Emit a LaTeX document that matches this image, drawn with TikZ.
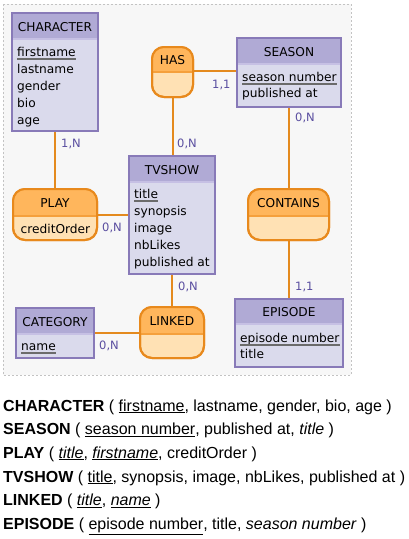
\documentclass[tikz,border=0pt]{standalone}
\usepackage{fontspec}
\setmainfont{Liberation Sans}
\newfontfamily\dvfont{DejaVu Sans}
\definecolor{entH}{RGB}{176,170,213}
\definecolor{entBody}{RGB}{218,218,236}
\definecolor{entB}{RGB}{136,122,184}
\definecolor{entDiv}{RGB}{198,192,228}
\definecolor{relH}{RGB}{255,182,92}
\definecolor{relBody}{RGB}{255,225,180}
\definecolor{relB}{RGB}{232,137,28}
\definecolor{relDiv}{RGB}{245,160,60}
\definecolor{lineC}{RGB}{228,138,30}
\definecolor{cardC}{RGB}{90,78,160}
\definecolor{ulC}{RGB}{107,107,107}
\definecolor{frameFill}{RGB}{247,247,247}
\definecolor{frameLine}{RGB}{195,195,195}
\newcommand\mkent[7]{% name x1 y1 x2 y2 ydiv title
  \node[entbox, minimum width={#4-#2}, minimum height={#5-#3}] (#1) at ({(#2+#4)/2},{(#3+#5)/2}) {};
  \fill[entH] (#1.north west) rectangle (#1.east |- 0,#6);
  \draw[entDiv, line width=1.5pt] ([xshift=1pt]#1.west |- 0,{#6+0.75}) -- ([xshift=-1pt]#1.east |- 0,{#6+0.75});
  \draw[entB, line width=2pt] (#1.north west) rectangle (#1.south east);
  \node[hdr] (#1-t) at ({(#2+#4)/2},{#6-(#6-#3)/2+5.8}) {#7};
}
\newcommand\mkrel[7]{% name x1 y1 x2 y2 ydiv title
  \node[relbox, minimum width={#4-#2}, minimum height={#5-#3}] (#1) at ({(#2+#4)/2},{(#3+#5)/2}) {};
  \begin{scope}
    \clip[rounded corners=12pt] (#1.south west) rectangle (#1.north east);
    \fill[relH] (#1.north west) rectangle (#1.east |- 0,#6);
    \draw[relDiv, line width=1.5pt] (#1.west |- 0,{#6+0.75}) -- (#1.east |- 0,{#6+0.75});
  \end{scope}
  \draw[relB, line width=2pt, rounded corners=12pt] (#1.south west) rectangle (#1.north east);
  \node[hdr] (#1-t) at ({(#2+#4)/2},{#6-(#6-#3)/2+5.8}) {#7};
}
\begin{document}
\begin{tikzpicture}[x=1pt,y=-1pt,
  entbox/.style={draw=entB, fill=entBody, line width=2pt, inner sep=0pt, outer sep=0pt},
  relbox/.style={draw=relB, fill=relBody, line width=2pt, rounded corners=12pt, inner sep=0pt, outer sep=0pt},
  hdr/.style={font=\dvfont\fontsize{12.2}{14}\selectfont, inner sep=0pt, anchor=base},
  attr/.style={font=\dvfont\fontsize{12.2}{14}\selectfont, inner sep=0pt, anchor=base west},
  ul/.style={draw=ulC, line width=2pt},
  card/.style={font=\dvfont\fontsize{11.5}{13}\selectfont, text=cardC, inner sep=0pt, anchor=west},
  conn/.style={draw=lineC, line width=2pt},
  rtext/.style={font=\fontsize{16}{19}\selectfont, inner sep=0pt, anchor=base west}]
\useasboundingbox (0,0) rectangle (408,539);
\fill[white] (0,0) rectangle (408,539);
\draw[frameLine, fill=frameFill, line width=1pt, dash pattern=on 2pt off 2pt] (3,4) rectangle (351,375);

% connectors (drawn first, nodes on top)
\draw[conn] (55,131) -- (55,189);
\draw[conn] (172.5,97) -- (172.5,156);
\draw[conn] (193,71) -- (237,71);
\draw[conn] (289,107) -- (289,189);
\draw[conn] (97,215) -- (129,215);
\draw[conn] (172,274) -- (172,307);
\draw[conn] (94,333) -- (140,333);
\draw[conn] (289,240) -- (289,299);

% entities
\mkent{character}{12}{13}{98}{131}{38}{CHARACTER}
\node[attr] (ch1) at (17,56.5) {firstname};
\draw[ul] ([yshift=-2.5pt]ch1.base west) -- ([yshift=-2.5pt]ch1.base east);
\node[attr] (ch2) at (17,73.5) {lastname};
\node[attr] (ch3) at (17,90.5) {gender};
\node[attr] (ch4) at (17,107.5) {bio};
\node[attr] (ch5) at (17,124.5) {age};

\mkent{season}{237}{38}{341}{107}{63}{SEASON}
\node[attr] (se1) at (242,81) {season number};
\draw[ul] ([yshift=-2.5pt]se1.base west) -- ([yshift=-2.5pt]se1.base east);
\node[attr] (se2) at (242,97.5) {published at};

\mkent{tvshow}{129}{156}{215}{274}{181}{TVSHOW}
\node[attr] (tv1) at (134,198.5) {title};
\draw[ul] ([yshift=-2.5pt]tv1.base west) -- ([yshift=-2.5pt]tv1.base east);
\node[attr] (tv2) at (134,215.5) {synopsis};
\node[attr] (tv3) at (134,232.5) {image};
\node[attr] (tv4) at (134,249.5) {nbLikes};
\node[attr] (tv5) at (134,266.5) {published at};

\mkent{category}{16}{308}{94}{358}{333}{CATEGORY}
\node[attr] (ca1) at (21,350.5) {name};
\draw[ul] ([yshift=-2.5pt]ca1.base west) -- ([yshift=-2.5pt]ca1.base east);

\mkent{episode}{235}{299}{343}{367}{323}{EPISODE}
\node[attr] (ep1) at (240,342) {episode number};
\draw[ul] ([yshift=-2.5pt]ep1.base west) -- ([yshift=-2.5pt]ep1.base east);
\node[attr] (ep2) at (240,358.5) {title};

% relations
\mkrel{has}{152}{47}{193}{97}{71}{HAS}
\mkrel{play}{13}{189}{97}{240}{215}{PLAY}
\node[attr] (pl1) at (20.5,233.5) {creditOrder};
\mkrel{contains}{248}{189}{329}{240}{215}{CONTAINS}
\mkrel{linked}{140}{307}{204}{358}{333}{LINKED}

% cardinalities
\node[card] (k1) at (61,144) {1,N};
\node[card] (k2) at (177,144) {0,N};
\node[card] (k3) at (212,85) {1,1};
\node[card] (k4) at (295,118) {0,N};
\node[card] (k5) at (102,228) {0,N};
\node[card] (k6) at (178,287) {0,N};
\node[card] (k7) at (99,346) {0,N};
\node[card] (k8) at (295,287) {1,1};

% relational schema
\node[rtext] (r1) at (3,411) {\textbf{CHARACTER} ( \underline{firstname}, lastname, gender, bio, age )};
\node[rtext] (r2) at (3,434.5) {\textbf{SEASON} ( \underline{season number}, published at, \textit{title} )};
\node[rtext] (r3) at (3,458) {\textbf{PLAY} ( \underline{\textit{title}}, \underline{\textit{firstname}}, creditOrder )};
\node[rtext] (r4) at (3,482) {\textbf{TVSHOW} ( \underline{title}, synopsis, image, nbLikes, published at )};
\node[rtext] (r5) at (3,505.5) {\textbf{LINKED} ( \underline{\textit{title}}, \underline{\textit{name}} )};
\node[rtext] (r6) at (3,529) {\textbf{EPISODE} ( \underline{episode number}, title, \textit{season number} )};
\end{tikzpicture}
\end{document}
